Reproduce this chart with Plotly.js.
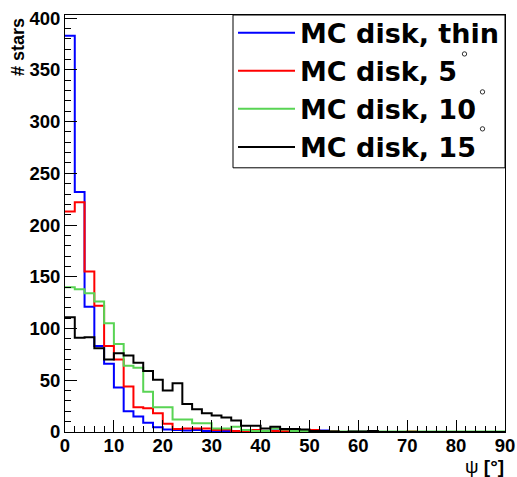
<!DOCTYPE html>
<html><head><meta charset="utf-8">
<script src="https://cdn.plot.ly/plotly-3.0.1.min.js"></script>
<style>html,body{margin:0;padding:0;background:#fff}#chart{width:517px;height:477px}</style>
</head><body><div id="chart"></div>
<script>
// Bin lower edges (degrees), 2-degree bins from 0 to 90
const binLowEdges = [0,2,4,6,8,10,12,14,16,18,20,22,24,26,28,30,32,34,36,38,40,42,44,46,48,50,52,54,56,58,60,62,64,66,68,70,72,74,76,78,80,82,84,86,88];
const binUpperLimit = 90;

const seriesNames = ['MC disk, thin', 'MC disk, 5', 'MC disk, 10', 'MC disk, 15'];

const diskThin = [383,232,121,83,66,43,20,15,9,4.5,2.5,2,1.5,2,1,1,1,0.5,1,0.5,0.5,1.5,1.5,0.5,0,0.5,1.5,0,0,0,0,0,0,0,0,0,0,0,0,0,0,0,0,0,0];
const disk5    = [213,222,155,122,83,70,44,24,23,18,8,3,3.5,3.5,3.5,2,2.5,1,1,2,0.5,1,1,0.5,0.5,2,1,0.5,0,0,0,0,0,0,0,0.5,0,0,0,0,0,0,0,0,0];
const disk10   = [140,138,134,126,105,85,64,62,39,24,24,12,12,8.5,8.5,3.5,3.5,5,2,1,1,3.5,2.5,1,1,0.5,0.5,0.5,0.5,0.5,0.5,0.5,0.5,0.5,0.5,0.5,0.5,0.5,0.5,0.5,0.5,0.5,0.5,0.5,0.5];
const disk15   = [111,91,91.5,81,70,76,74,67,59,50.5,40,47,27,22,18,16,14,11,6,6,3.5,5,3,3,2.5,1,1,0.5,0,0.5,0.5,1,0,0,0,0,0,0,0,0,0,0,0,0,0];

const seriesValues = [diskThin, disk5, disk10, disk15];
const seriesColors = ['#0000ff', '#ff0000', '#59d454', '#000000'];

function stepX() { return binLowEdges.concat([binUpperLimit]); }
function stepY(v) { return v.concat([v[v.length - 1]]); }

const traces = seriesValues.map((vals, i) => ({
  type: 'scatter',
  mode: 'lines',
  x: stepX(),
  y: stepY(vals),
  name: seriesNames[i],
  line: {shape: 'hv', color: seriesColors[i], width: 2}
}));

// pixel -> paper helpers for decorations (plot area 65..505 x 9..432)
const L = 65, R = 12, T = 9, B = 45, W = 517, H = 477;
const pw = W - L - R, ph = H - T - B;
const px = x => (x - L) / pw;
const py = y => (H - B - y) / ph;

const tickFont = {family: 'Liberation Sans, Arial, sans-serif', size: 18.5, color: '#000', weight: 'bold'};

const circleCenters = [[464.5, 48.5], [482.5, 87], [482.5, 124.5]];
const shapes = circleCenters.map(c => ({
  type: 'circle', xref: 'paper', yref: 'paper',
  x0: px(c[0] - 2.2), x1: px(c[0] + 2.2), y0: py(c[1] + 2.2), y1: py(c[1] - 2.2),
  line: {color: '#000', width: 0.8}, fillcolor: 'rgba(0,0,0,0)', layer: 'above'
}));
// legend frame
shapes.push({
  type: 'rect', xref: 'paper', yref: 'paper',
  x0: px(233), x1: px(505), y0: py(164), y1: py(9),
  line: {color: '#000', width: 1}, fillcolor: 'rgba(0,0,0,0)', layer: 'above'
});

const layout = {
  width: W, height: H,
  margin: {l: L, r: R, t: T, b: B, pad: 0},
  paper_bgcolor: '#fff', plot_bgcolor: '#fff',
  showlegend: true,
  legend: {
    x: px(233), y: py(2.5), xanchor: 'left', yanchor: 'top',
    bgcolor: 'rgba(0,0,0,0)', borderwidth: 0,
    font: {family: 'DejaVu Sans, sans-serif', size: 27, color: '#000', weight: 'bold'},
    itemwidth: 57, tracegroupgap: 0
  },
  xaxis: {
    range: [0, 90], showgrid: false, zeroline: false,
    showline: true, linecolor: '#000', linewidth: 1, mirror: true,
    ticks: 'inside', ticklen: 12, tickwidth: 1, tickcolor: '#000',
    dtick: 10, tick0: 0, tickfont: tickFont, ticklabelstandoff: -3,
    minor: {dtick: 2, ticks: 'inside', ticklen: 6, tickwidth: 1, tickcolor: '#000', showgrid: false}
  },
  yaxis: {
    range: [0, 403], showgrid: false, zeroline: false,
    showline: true, linecolor: '#000', linewidth: 1, mirror: true,
    ticks: 'inside', ticklen: 12, tickwidth: 1, tickcolor: '#000',
    dtick: 50, tick0: 0, tickfont: tickFont,
    minor: {dtick: 10, ticks: 'inside', ticklen: 6, tickwidth: 1, tickcolor: '#000', showgrid: false}
  },
  shapes: shapes,
  annotations: [
    {text: '<b># stars</b>', xref: 'paper', yref: 'paper', x: px(18), y: py(10),
     xanchor: 'center', yanchor: 'top', textangle: -90, showarrow: false,
     font: {family: 'Liberation Sans, Arial, sans-serif', size: 18, color: '#000'}},
    {text: 'ψ <b>[°]</b>', xref: 'paper', yref: 'paper', x: 1, y: py(467),
     xanchor: 'right', yanchor: 'middle', showarrow: false, borderpad: 0,
     font: {family: 'Liberation Sans, Arial, sans-serif', size: 19, color: '#000'}}
  ]
};

Plotly.newPlot('chart', traces, layout, {displayModeBar: false, staticPlot: true});
</script>
</body></html>
